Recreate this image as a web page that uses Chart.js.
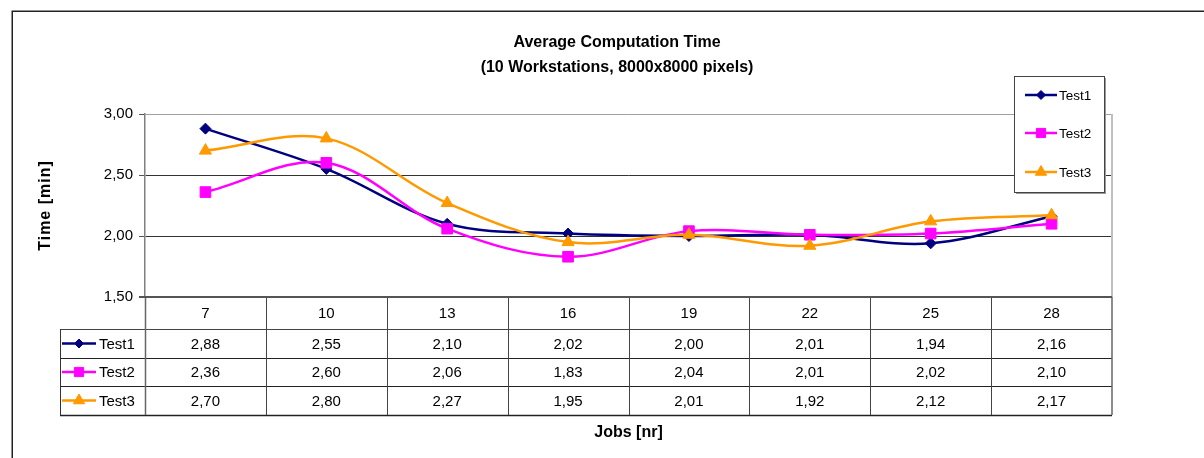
<!DOCTYPE html>
<html>
<head>
<meta charset="utf-8">
<title>Average Computation Time</title>
<script src="https://cdn.jsdelivr.net/npm/chart.js@4.4.1/dist/chart.umd.min.js"></script>
<style>
    html, body { margin: 0; padding: 0; background: #fff; }
    #wrap { width: 1204px; height: 458px; }
</style>
</head>
<body>
<div id="wrap"><canvas id="chart" width="1204" height="458"></canvas></div>
<script>
// ── Data ─────────────────────────────────────────────────────────
const JOBS         = ["7", "10", "13", "16", "19", "22", "25", "28"];
const TEST1        = [2.88, 2.55, 2.10, 2.02, 2.00, 2.01, 1.94, 2.16];
const TEST2        = [2.36, 2.60, 2.06, 1.83, 2.04, 2.01, 2.02, 2.10];
const TEST3        = [2.70, 2.80, 2.27, 1.95, 2.01, 1.92, 2.12, 2.17];
const SERIES_NAMES = ["Test1", "Test2", "Test3"];
const Y_MIN = 1.5, Y_MAX = 3.0, Y_STEP = 0.5;

const TITLE_LINES = ["Average Computation Time", "(10 Workstations, 8000x8000 pixels)"];
const X_TITLE     = "Jobs [nr]";
const Y_TITLE     = "Time [min]";

// ── Styles ───────────────────────────────────────────────────────
const FONT = "'Liberation Sans', Arial, sans-serif";
const SERIES_STYLE = [
    { color: "#000080", pointStyle: "rectRot",  radius: 5.5, keyRadius: 4.5 },
    { color: "#FF00FF", pointStyle: "rect",     radius: 7.5, keyRadius: 6.5 },
    { color: "#FF9900", pointStyle: "triangle", radius: 7,   keyRadius: 6.5 },
];
const SERIES_DATA = [TEST1, TEST2, TEST3];

const fmt = (v) => v.toFixed(2).replace(".", ",");

// small helper: line segment with a marker in the middle (legend keys)
function drawKey(ctx, style, x1, x2, y) {
    ctx.save();
    ctx.strokeStyle = style.color;
    ctx.fillStyle   = style.color;
    ctx.lineWidth   = 2.5;
    ctx.beginPath();
    ctx.moveTo(x1, y);
    ctx.lineTo(x2, y);
    ctx.stroke();
    ctx.lineWidth = 1;
    Chart.helpers.drawPoint(ctx, {
        pointStyle: style.pointStyle,
        radius: style.keyRadius,
        rotation: 0,
        borderWidth: 1,
    }, (x1 + x2) / 2, y);
    ctx.restore();
}

function hLine(ctx, x1, x2, y, color, w) {
    ctx.strokeStyle = color;
    ctx.lineWidth = w;
    ctx.beginPath();
    ctx.moveTo(x1, y);
    ctx.lineTo(x2, y);
    ctx.stroke();
}

function vLine(ctx, x, y1, y2, color, w) {
    ctx.strokeStyle = color;
    ctx.lineWidth = w;
    ctx.beginPath();
    ctx.moveTo(x, y1);
    ctx.lineTo(x, y2);
    ctx.stroke();
}

// ── Plugin: frame, titles, data table, legend box ────────────────
const excelDecor = {
    id: "excelDecor",

    beforeDraw(chart) {
        const ctx = chart.ctx;
        ctx.save();
        ctx.strokeStyle = "#222";
        ctx.lineWidth = 1.5;
        ctx.strokeRect(12.25, 11.25, 1400, 600);
        ctx.restore();
    },

    afterDraw(chart) {
        const ctx = chart.ctx;
        const ca  = chart.chartArea;
        const xs  = chart.scales.x;
        const colW = (ca.right - ca.left) / JOBS.length;

        ctx.save();

        // titles
        ctx.fillStyle = "#000";
        ctx.textAlign = "center";
        ctx.textBaseline = "middle";
        ctx.font = "bold 16px " + FONT;
        ctx.fillText(TITLE_LINES[0], 617, 43);
        ctx.fillText(TITLE_LINES[1], 617, 68);
        ctx.fillText(X_TITLE, (ca.left + ca.right) / 2, 433);

        ctx.save();
        ctx.translate(46, (ca.top + ca.bottom) / 2);
        ctx.rotate(-Math.PI / 2);
        ctx.letterSpacing = "1px";
        ctx.fillText(Y_TITLE, 0, 0);
        ctx.restore();

        // plot area right border
        vLine(ctx, ca.right, ca.top, ca.bottom, "#c0c0c0", 2);

        // data table geometry
        const hdrTop = ca.bottom;
        const hdrBot = hdrTop + 32;
        const rowH   = 28.7;
        const rowY   = (i) => Math.round(hdrBot + i * rowH);
        const tblBot = rowY(SERIES_DATA.length);
        const keyLeft = 60;

        // grid of the table
        hLine(ctx, keyLeft, ca.right, hdrBot + 0.5, "#444", 1);
        for (let i = 1; i <= SERIES_DATA.length; i++) {
            hLine(ctx, keyLeft, ca.right, rowY(i) + 0.5, "#222", i === SERIES_DATA.length ? 1.5 : 1);
        }
        for (let k = 1; k < JOBS.length; k++) {
            const x = Math.round(ca.left + k * colW) + 0.5;
            vLine(ctx, x, hdrTop, tblBot, "#444", 1);
        }
        vLine(ctx, ca.left + 0.5, hdrTop, tblBot, "#666", 1.5);
        vLine(ctx, ca.right, hdrTop, tblBot, "#666", 1.5);
        vLine(ctx, keyLeft + 0.5, hdrBot, tblBot, "#333", 1);
        // category axis line
        hLine(ctx, ca.left - 6, ca.right, hdrTop, "#555", 2);

        // header labels + values
        ctx.font = "15px " + FONT;
        ctx.fillStyle = "#000";
        ctx.textAlign = "center";
        JOBS.forEach((lab, j) => {
            const cx = xs.getPixelForValue(j);
            ctx.fillText(lab, cx, (hdrTop + hdrBot) / 2 + 1);
            SERIES_DATA.forEach((data, i) => {
                ctx.fillText(fmt(data[j]), cx, (rowY(i) + rowY(i + 1)) / 2 + 1);
            });
        });

        // row keys
        SERIES_DATA.forEach((data, i) => {
            const cy = (rowY(i) + rowY(i + 1)) / 2;
            drawKey(ctx, SERIES_STYLE[i], 62, 96, cy);
            ctx.fillStyle = "#000";
            ctx.textAlign = "left";
            ctx.font = "15px " + FONT;
            ctx.fillText(SERIES_NAMES[i], 99, cy + 1);
        });

        // legend box
        const lx = 1014, ly = 76, lw = 90, lh = 116;
        ctx.fillStyle = "#999";
        ctx.fillRect(lx + 2, ly + 2, lw, lh);
        ctx.fillStyle = "#fff";
        ctx.fillRect(lx, ly, lw, lh);
        ctx.strokeStyle = "#444";
        ctx.lineWidth = 1;
        ctx.strokeRect(lx + 0.5, ly + 0.5, lw, lh);
        const legY = [95, 133, 172];
        SERIES_NAMES.forEach((name, i) => {
            drawKey(ctx, SERIES_STYLE[i], 1025, 1057, legY[i]);
            ctx.fillStyle = "#000";
            ctx.textAlign = "left";
            ctx.font = "13.5px " + FONT;
            ctx.fillText(name, 1059, legY[i] + 1);
        });

        ctx.restore();
    }
};

// ── Chart ────────────────────────────────────────────────────────
Chart.defaults.font.family = FONT;
Chart.defaults.color = "#000";

new Chart(document.getElementById("chart").getContext("2d"), {
    type: "line",
    data: {
        labels: JOBS,
        datasets: SERIES_DATA.map((data, i) => ({
            label: SERIES_NAMES[i],
            data: data,
            borderColor: SERIES_STYLE[i].color,
            backgroundColor: SERIES_STYLE[i].color,
            borderWidth: 2.5,
            pointStyle: SERIES_STYLE[i].pointStyle,
            pointRadius: SERIES_STYLE[i].radius,
            pointBorderWidth: 1,
            tension: 0.35,
            fill: false,
            order: SERIES_DATA.length - i,   // later series drawn on top
        }))
    },
    options: {
        responsive: false,
        animation: false,
        layout: { padding: { top: 114, right: 92, bottom: 161, left: 0 } },
        scales: {
            x: {
                type: "category",
                display: false,
                offset: true,
            },
            y: {
                min: Y_MIN,
                max: Y_MAX,
                afterFit: (scale) => { scale.width = 145; },
                ticks: {
                    stepSize: Y_STEP,
                    padding: 6,
                    color: "#000",
                    font: { size: 15 },
                    callback: (v) => fmt(v),
                },
                grid: {
                    color: (ctx) => {
                        const v = ctx.tick ? ctx.tick.value : null;
                        if (v === Y_MAX) return "#a0a0a0";
                        if (v === Y_MIN) return "rgba(0,0,0,0)";
                        return "#333";
                    },
                    tickColor: "#555",
                    tickLength: 6,
                    lineWidth: 1,
                },
                border: { color: "#808080", width: 1.5 },
            }
        },
        plugins: {
            legend:  { display: false },
            title:   { display: false },
            tooltip: { enabled: false },
        }
    },
    plugins: [excelDecor]
});
</script>
</body>
</html>
